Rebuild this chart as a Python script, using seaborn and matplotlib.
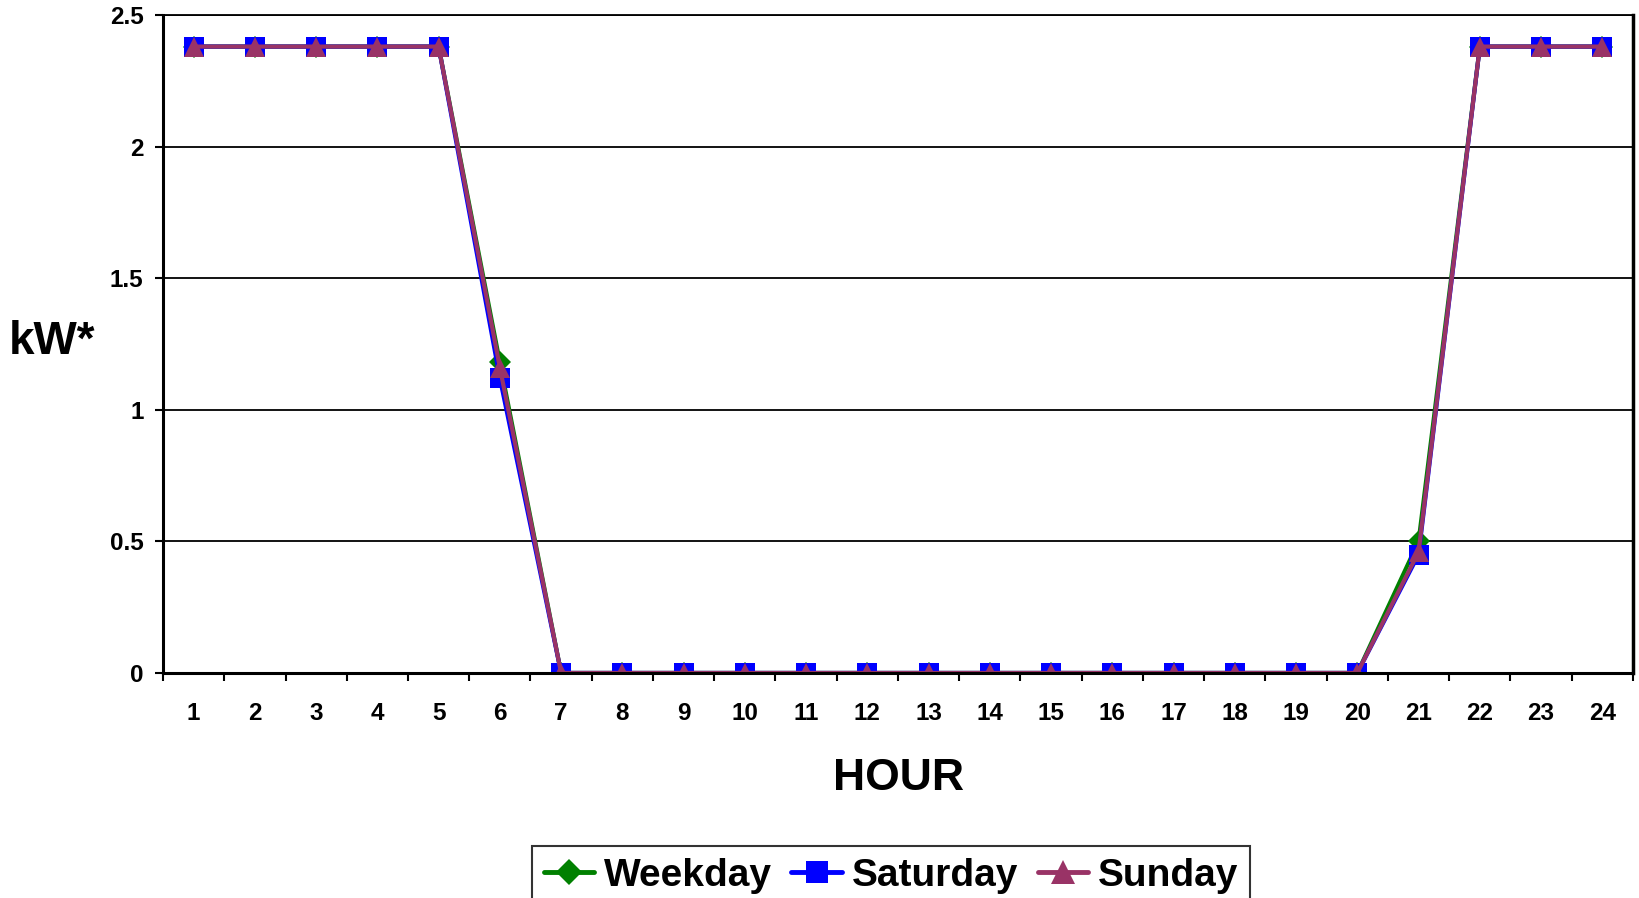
import numpy as np
import pandas as pd
import matplotlib
matplotlib.use("Agg")
import matplotlib.pyplot as plt
import seaborn as sns
from matplotlib.lines import Line2D

# =====================================
# Data
# =====================================
hours = list(range(1, 25))

weekday = [2.38, 2.38, 2.38, 2.38, 2.38, 1.18, 0, 0, 0, 0, 0, 0,
           0, 0, 0, 0, 0, 0, 0, 0, 0.50, 2.38, 2.38, 2.38]
saturday = [2.38, 2.38, 2.38, 2.38, 2.38, 1.12, 0, 0, 0, 0, 0, 0,
            0, 0, 0, 0, 0, 0, 0, 0, 0.45, 2.38, 2.38, 2.38]
sunday = [2.38, 2.38, 2.38, 2.38, 2.38, 1.16, 0, 0, 0, 0, 0, 0,
          0, 0, 0, 0, 0, 0, 0, 0, 0.46, 2.38, 2.38, 2.38]

series_names = ["Weekday", "Saturday", "Sunday"]
y_ticks = [0, 0.5, 1, 1.5, 2, 2.5]
y_tick_labels = ["0", "0.5", "1", "1.5", "2", "2.5"]

# =====================================
# Style
# =====================================
sns.set_style("white")
plt.rcParams["font.family"] = ["Liberation Sans", "DejaVu Sans"]
plt.rcParams["font.weight"] = "bold"
plt.rcParams["text.color"] = "black"
plt.rcParams["xtick.color"] = "black"
plt.rcParams["ytick.color"] = "black"

colors = {"Weekday": "#008000", "Saturday": "#0000FF", "Sunday": "#993366"}
markers = {"Weekday": "D", "Saturday": "s", "Sunday": "^"}
msizes = {"Weekday": 11, "Saturday": 14, "Sunday": 15}

fig = plt.figure(figsize=(16.4, 8.98), dpi=100)
ax = fig.add_axes([0.0994, 0.2506, 0.8963, 0.7327])

data = {"Weekday": weekday, "Saturday": saturday, "Sunday": sunday}

for name in series_names:
    sns.lineplot(
        x=hours,
        y=data[name],
        ax=ax,
        color=colors[name],
        marker=markers[name],
        markersize=msizes[name],
        markeredgecolor=colors[name],
        markeredgewidth=0,
        linewidth=3,
        legend=False,
    )

# =====================================
# Axes
# =====================================
ax.set_xlim(0.5, 24.5)
ax.set_ylim(0, 2.5)

ax.set_yticks(y_ticks)
ax.set_yticklabels(y_tick_labels, fontsize=17.5, fontweight="bold",
                   color="black")
ax.yaxis.grid(True, color="black", linewidth=1.3)
ax.set_axisbelow(True)

# category boundaries as major ticks, labels on minor ticks
ax.set_xticks(np.arange(0.5, 25, 1))
ax.set_xticklabels([])
ax.set_xticks(hours, minor=True)
ax.set_xticklabels([str(h) for h in hours], minor=True,
                   fontsize=17.5, fontweight="bold", color="black")

ax.tick_params(axis="x", which="major", direction="out", length=6,
               width=1.5, color="black", bottom=True)
ax.tick_params(axis="x", which="minor", length=0, pad=21)
ax.tick_params(axis="y", direction="out", length=6, width=1.5,
               color="black", left=True, pad=8)

for side in ["left", "bottom", "right", "top"]:
    ax.spines[side].set_visible(True)
    ax.spines[side].set_color("black")
ax.spines["left"].set_linewidth(2.2)
ax.spines["bottom"].set_linewidth(2.2)
ax.spines["right"].set_linewidth(2.5)
ax.spines["top"].set_linewidth(1.3)

ax.set_xlabel("")
ax.set_ylabel("")

fig.text(899 / 1640, 1 - 779 / 898, "HOUR", fontsize=32,
         fontweight="bold", ha="center", va="center", color="black")
fig.text(52 / 1640, 1 - 342 / 898, "kW*", fontsize=33,
         fontweight="bold", ha="center", va="center", color="black")

# =====================================
# Legend
# =====================================
handles = [
    Line2D([0], [0], color=colors[n], marker=markers[n],
           markersize=msizes[n] + 2, markeredgewidth=0, linewidth=3.5)
    for n in series_names
]
leg = fig.legend(
    handles,
    series_names,
    loc="center",
    bbox_to_anchor=(891 / 1640, 1 - 876 / 898),
    ncol=3,
    frameon=True,
    fancybox=False,
    edgecolor="black",
    handlelength=1.3,
    handletextpad=0.25,
    columnspacing=0.5,
    borderpad=0.3,
    prop={"family": ["Liberation Sans", "DejaVu Sans"],
          "weight": "bold", "size": 28},
)
leg.get_frame().set_linewidth(1.5)
for t in leg.get_texts():
    t.set_color("black")

fig.savefig("out.png", dpi=100)
